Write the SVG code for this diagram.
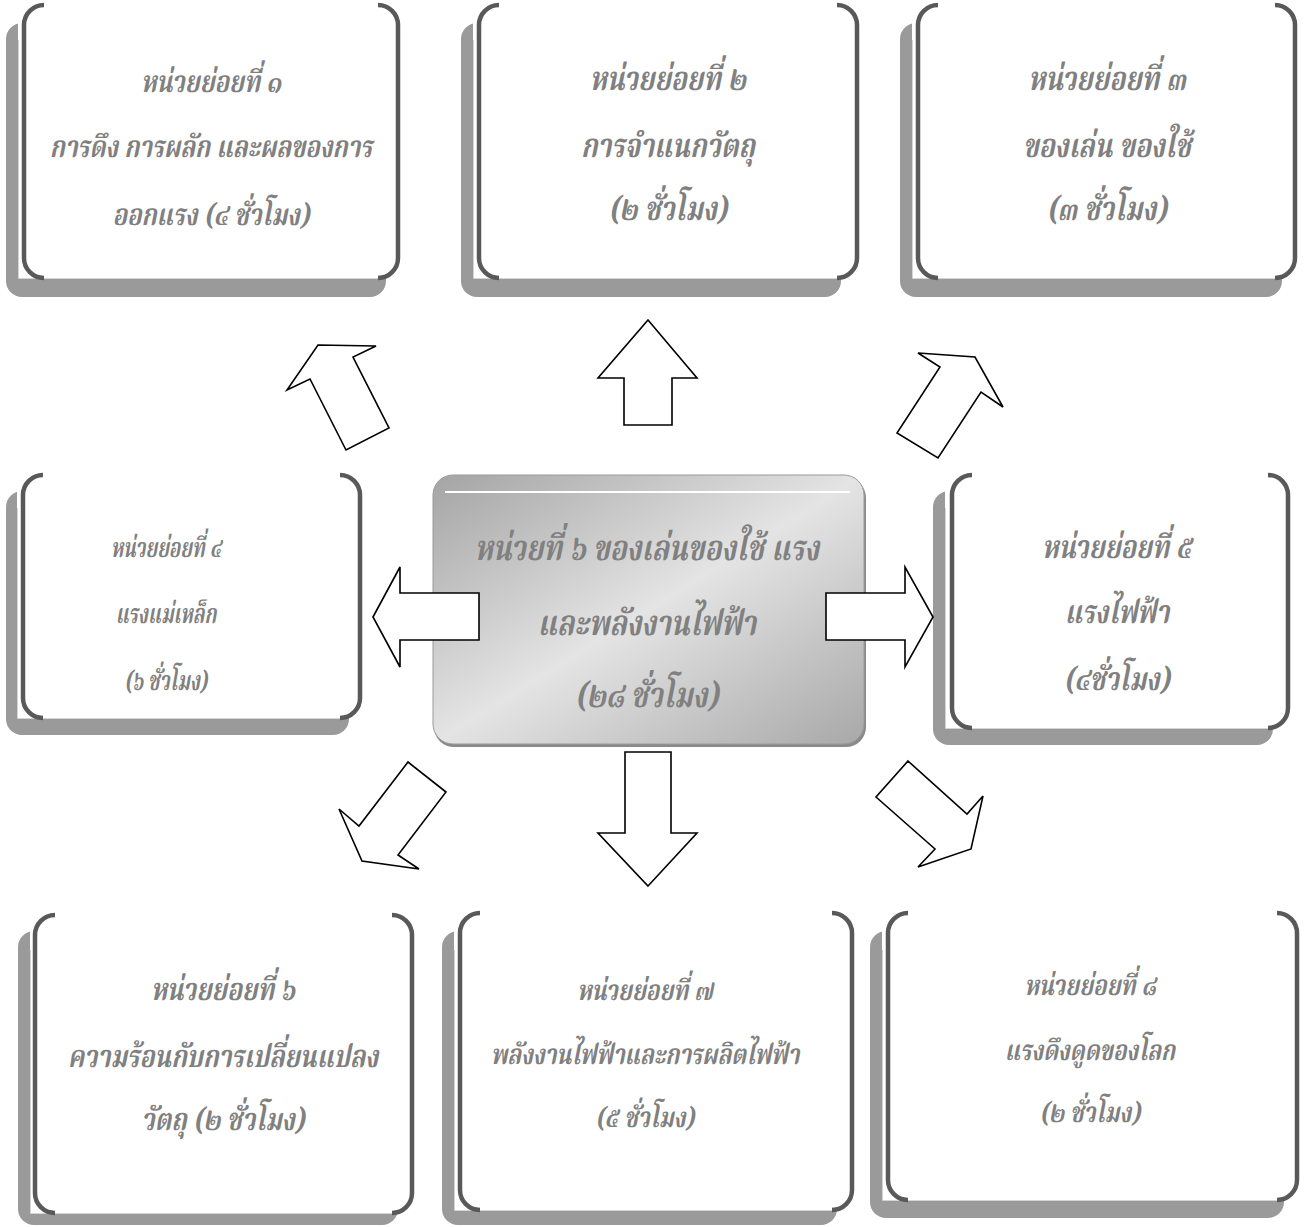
<svg xmlns="http://www.w3.org/2000/svg" width="1305" height="1227" viewBox="0 0 1305 1227">
<defs>
<style>
.sh{fill:#9a9a9a}
.wh{fill:#ffffff}
.edge{fill:none;stroke:#d4d4d4;stroke-width:1}
.br{fill:none;stroke:#595959;stroke-width:4.5;stroke-linecap:butt}
.t{font-family:'Noto Serif Thai','Noto Sans Thai','Tlwg Typo','Loma','Garuda','Noto Sans',serif;font-style:italic;font-weight:bold;fill:#808080;text-anchor:middle}
.arr{fill:#ffffff;stroke:#000000;stroke-width:1.6;stroke-linejoin:miter}
</style>
<linearGradient id="cg" x1="0" y1="0" x2="1" y2="1">
<stop offset="0" stop-color="#a4a4a4"/>
<stop offset="0.5" stop-color="#e4e4e4"/>
<stop offset="1" stop-color="#a8a8a8"/>
</linearGradient>
</defs>
<rect width="1305" height="1227" fill="#ffffff"/>

<g id="node1">
<rect class="sh" x="6" y="23" width="380" height="274" rx="16"/>
<rect class="wh" x="18" y="5" width="380" height="273"/>
<path class="edge" d="M18.5,40 V278.5 H385"/>
<path class="br" d="M44,5 A20,20 0 0 0 24,25 V258 A20,20 0 0 0 44,278"/>
<path class="br" d="M378,5 A20,20 0 0 1 398,25 V258 A20,20 0 0 1 378,278"/>
<text class="t" font-size="30" transform="translate(211 0) scale(0.8 1)"><tspan x="0" y="92">หน่วยย่อยที่ ๑</tspan><tspan x="0" y="157">การดึง การผลัก และผลของการ</tspan><tspan x="0" y="225">ออกแรง (๔ ชั่วโมง)</tspan></text>
</g>

<g id="node2">
<rect class="sh" x="461" y="23" width="380" height="274" rx="16"/>
<rect class="wh" x="473" y="5" width="384" height="273"/>
<path class="edge" d="M473.5,40 V278.5 H840"/>
<path class="br" d="M499,5 A20,20 0 0 0 479,25 V258 A20,20 0 0 0 499,278"/>
<path class="br" d="M837,5 A20,20 0 0 1 857,25 V258 A20,20 0 0 1 837,278"/>
<text class="t" font-size="33" transform="translate(668 0) scale(0.8 1)"><tspan x="0" y="90">หน่วยย่อยที่ ๒</tspan><tspan x="0" y="157">การจำแนกวัตถุ</tspan><tspan x="0" y="220">(๒ ชั่วโมง)</tspan></text>
</g>

<g id="node3">
<rect class="sh" x="900" y="23" width="382" height="274" rx="16"/>
<rect class="wh" x="912" y="5" width="383" height="273"/>
<path class="edge" d="M912.5,40 V278.5 H1280"/>
<path class="br" d="M938,5 A20,20 0 0 0 918,25 V258 A20,20 0 0 0 938,278"/>
<path class="br" d="M1275,5 A20,20 0 0 1 1295,25 V258 A20,20 0 0 1 1275,278"/>
<text class="t" font-size="33" transform="translate(1107 0) scale(0.8 1)"><tspan x="0" y="90">หน่วยย่อยที่ ๓</tspan><tspan x="0" y="157">ของเล่น ของใช้</tspan><tspan x="0" y="220">(๓ ชั่วโมง)</tspan></text>
</g>

<g id="node4">
<rect class="sh" x="6" y="491" width="343" height="244" rx="16"/>
<rect class="wh" x="17" y="475" width="343" height="243"/>
<path class="edge" d="M17.5,508 V718.5 H345"/>
<path class="br" d="M43,475 A20,20 0 0 0 23,495 V698 A20,20 0 0 0 43,718"/>
<path class="br" d="M340,475 A20,20 0 0 1 360,495 V698 A20,20 0 0 1 340,718"/>
<text class="t" font-size="27" transform="translate(166 0) scale(0.7 1)"><tspan x="0" y="557">หน่วยย่อยที่ ๔</tspan><tspan x="0" y="623">แรงแม่เหล็ก</tspan><tspan x="0" y="690">(๖ ชั่วโมง)</tspan></text>
</g>

<g id="node5">
<rect class="sh" x="933" y="491" width="340" height="254" rx="16"/>
<rect class="wh" x="945" y="475" width="343" height="253"/>
<path class="edge" d="M945.5,508 V728.5 H1272"/>
<path class="br" d="M972,475 A20,20 0 0 0 952,495 V708 A20,20 0 0 0 972,728"/>
<path class="br" d="M1268,475 A20,20 0 0 1 1288,495 V708 A20,20 0 0 1 1268,728"/>
<text class="t" font-size="32" transform="translate(1117 0) scale(0.8 1)"><tspan x="0" y="558">หน่วยย่อยที่ ๕</tspan><tspan x="0" y="623">แรงไฟฟ้า</tspan><tspan x="0" y="690">(๔ชั่วโมง)</tspan></text>
</g>

<g id="node-center">
<rect x="434" y="478" width="432" height="269" rx="20" fill="#8a8a8a"/>
<rect x="433" y="475" width="431" height="269" rx="20" fill="url(#cg)" stroke="#9a9a9a" stroke-width="1"/>
<line x1="445" y1="492" x2="850" y2="492" stroke="#ffffff" stroke-width="2"/>
<text class="t" font-size="35" transform="translate(647 0) scale(0.8 1)"><tspan x="0" y="560">หน่วยที่ ๖ ของเล่นของใช้ แรง</tspan><tspan x="0" y="635">และพลังงานไฟฟ้า</tspan><tspan x="0" y="707">(๒๘ ชั่วโมง)</tspan></text>
</g>

<g id="node6">
<rect class="sh" x="18" y="931" width="380" height="294" rx="16"/>
<rect class="wh" x="30" y="915" width="382" height="298"/>
<path class="edge" d="M30.5,950 V1213.5 H397"/>
<path class="br" d="M55,915 A20,20 0 0 0 35,935 V1193 A20,20 0 0 0 55,1213"/>
<path class="br" d="M392,915 A20,20 0 0 1 412,935 V1193 A20,20 0 0 1 392,1213"/>
<text class="t" font-size="31" transform="translate(223 0) scale(0.8 1)"><tspan x="0" y="1000">หน่วยย่อยที่ ๖</tspan><tspan x="0" y="1067">ความร้อนกับการเปลี่ยนแปลง</tspan><tspan x="0" y="1130">วัตถุ (๒ ชั่วโมง)</tspan></text>
</g>

<g id="node7">
<rect class="sh" x="442" y="931" width="395" height="294" rx="16"/>
<rect class="wh" x="454" y="913" width="398" height="297"/>
<path class="edge" d="M454.5,950 V1210.5 H837"/>
<path class="br" d="M480,913 A20,20 0 0 0 460,933 V1190 A20,20 0 0 0 480,1210"/>
<path class="br" d="M832,913 A20,20 0 0 1 852,933 V1190 A20,20 0 0 1 832,1210"/>
<text class="t" font-size="28" transform="translate(645 0) scale(0.8 1)"><tspan x="0" y="1000">หน่วยย่อยที่ ๗</tspan><tspan x="0" y="1064">พลังงานไฟฟ้าและการผลิตไฟฟ้า</tspan><tspan x="0" y="1127">(๕ ชั่วโมง)</tspan></text>
</g>

<g id="node8">
<rect class="sh" x="870" y="931" width="414" height="287" rx="16"/>
<rect class="wh" x="882" y="913" width="415" height="287"/>
<path class="edge" d="M882.5,950 V1200.5 H1282"/>
<path class="br" d="M908,913 A20,20 0 0 0 888,933 V1180 A20,20 0 0 0 908,1200"/>
<path class="br" d="M1277,913 A20,20 0 0 1 1297,933 V1180 A20,20 0 0 1 1277,1200"/>
<text class="t" font-size="28" transform="translate(1090 0) scale(0.8 1)"><tspan x="0" y="995">หน่วยย่อยที่ ๘</tspan><tspan x="0" y="1060">แรงดึงดูดของโลก</tspan><tspan x="0" y="1122">(๒ ชั่วโมง)</tspan></text>
</g>

<g id="connectors">
<polygon class="arr" points="648,320 697,378 672,378 672,425 624,425 624,378 598,378"/>
<polygon class="arr" points="648,886 697,833 671,833 671,752 625,752 625,833 598,833"/>
<polygon class="arr" points="373,617 400,567 400,593 479,593 479,640 400,640 400,667"/>
<polygon class="arr" points="933,617 905,567 905,593 826,593 826,640 905,640 905,667"/>
<polygon class="arr" points="318,345 376,346 353,357 389,428 346,450 310,379 287,390"/>
<polygon class="arr" points="918,353 975,357 1003,407 981,392 938,458 897,433 940,367"/>
<polygon class="arr" points="408,762 446,792 398,855 419,869 362,861 339,809 359,826"/>
<polygon class="arr" points="908,761 967,814 983,796 971,849 918,867 935,849 876,797"/>
</g>
</svg>
